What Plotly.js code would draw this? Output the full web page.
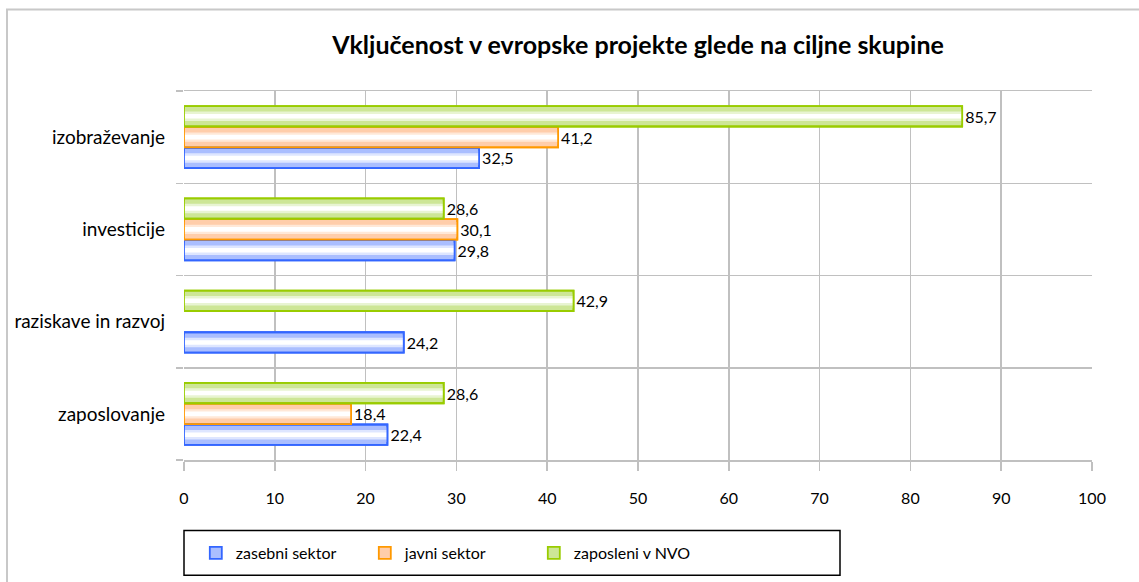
<!DOCTYPE html>
<html>
<head>
<meta charset="utf-8">
<script src="https://cdn.plot.ly/plotly-3.0.1.min.js"></script>
<style>
  html, body { margin: 0; padding: 0; background: #ffffff; }
  #chart { width: 1139px; height: 582px; }
</style>
</head>
<body>
<div id="chart"></div>
<script>
// ---- data ----
const categories = ["zaposlovanje", "raziskave in razvoj", "investicije", "izobraževanje"];
const seriesNames = ["zasebni sektor", "javni sektor", "zaposleni v NVO"];
const zasebniSektor = [22.4, 24.2, 29.8, 32.5];
const javniSektor = [18.4, null, 30.1, 41.2];
const zaposleniNVO = [28.6, 42.9, 28.6, 85.7];
const xTicks = [0, 10, 20, 30, 40, 50, 60, 70, 80, 90, 100];
const chartTitle = "Vključenost v evropske projekte glede na ciljne skupine";

// ---- styles ----
const FONT = "Lato, 'Open Sans', sans-serif";
const styles = [
  { values: zasebniSektor, name: seriesNames[0], center: -0.226,
    edge: "rgb(51,102,255)", layers: ["rgb(110,145,255)", "rgb(170,190,255)", "rgb(222,230,255)", "rgb(255,255,255)"] },
  { values: javniSektor, name: seriesNames[1], center: 0,
    edge: "rgb(255,153,0)", layers: ["rgb(255,175,110)", "rgb(255,205,170)", "rgb(255,232,215)", "rgb(255,255,255)"] },
  { values: zaposleniNVO, name: seriesNames[2], center: 0.226,
    edge: "rgb(153,204,0)", layers: ["rgb(170,210,60)", "rgb(205,230,150)", "rgb(232,244,210)", "rgb(255,255,255)"] }
];
const barW = 0.222;
const layerFrac = [1.0, 0.72, 0.46, 0.22];

const traces = [];
// fill layers (first trace of each group carries the legend entry)
styles.forEach(s => {
  s.layers.forEach((col, i) => {
    const w = barW * layerFrac[i];
    const t = {
      type: "bar", orientation: "h",
      x: s.values, y: categories,
      width: w, offset: s.center - w / 2,
      marker: { color: col, line: { width: 0 } },
      showlegend: false, hoverinfo: "skip",
      textposition: "none",
      legendgroup: s.name
    };
    if (i === 0) {
      t.name = s.name;
      t.showlegend = true;
      t.marker = { color: s.layers[1], line: { color: s.edge, width: 1.8 } };
    }
    traces.push(t);
  });
});
// outline layers with value labels on top
styles.forEach(s => {
  traces.push({
    type: "bar", orientation: "h",
    x: s.values, y: categories,
    width: barW, offset: s.center - barW / 2,
    marker: { color: "rgba(0,0,0,0)", line: { color: s.edge, width: 1.8 } },
    texttemplate: "%{x:.1f}",
    textposition: "outside",
    textfont: { family: FONT, size: 16, color: "#000000" },
    cliponaxis: false,
    showlegend: false, hoverinfo: "skip"
  });
});

const layout = {
  width: 1139, height: 582,
  margin: { l: 184, r: 47, t: 91, b: 120, pad: 0 },
  paper_bgcolor: "#ffffff", plot_bgcolor: "#ffffff",
  separators: ", ",
  barmode: "overlay",
  font: { family: FONT, size: 16, color: "#000000" },
  title: {
    text: "<b>" + chartTitle + "</b>",
    font: { family: FONT, size: 25, color: "#000000" },
    x: 0.5, xref: "paper", xanchor: "center",
    y: 1 - 45 / 582, yref: "container", yanchor: "middle"
  },
  xaxis: {
    range: [0, 100], tickvals: xTicks, ticktext: xTicks.map(String),
    showgrid: true, gridcolor: "#c0c0c0", gridwidth: 1.5,
    zeroline: false, showline: true, mirror: true, linecolor: "#c0c0c0", linewidth: 1.5,
    ticks: "outside", ticklen: 9, tickcolor: "#c0c0c0", tickwidth: 1.5,
    ticklabelstandoff: 14,
    tickfont: { family: FONT, size: 16, color: "#000000" },
    fixedrange: true
  },
  yaxis: {
    type: "category", categoryorder: "array", categoryarray: categories,
    tickson: "boundaries",
    showgrid: true, gridcolor: "#c0c0c0", gridwidth: 1.5,
    zeroline: false, showline: false,
    ticks: "outside", ticklen: 7, tickcolor: "#c0c0c0", tickwidth: 1.5,
    ticklabelstandoff: 18,
    tickfont: { family: FONT, size: 19, color: "#000000" },
    fixedrange: true
  },
  legend: {
    orientation: "h",
    x: 0.013, xanchor: "left",
    y: -0.252, yanchor: "middle",
    bgcolor: "rgba(0,0,0,0)", borderwidth: 0,
    entrywidth: 124, entrywidthmode: "pixels",
    itemwidth: 30,
    font: { family: FONT, size: 16, color: "#000000" },
    traceorder: "normal"
  },
  shapes: [
    // legend box
    { type: "rect", xref: "paper", yref: "paper",
      x0: 0, x1: (840 - 184) / 908, y0: -(578 - 462) / 371, y1: -(533 - 462) / 371,
      line: { color: "#000000", width: 1.5 }, fillcolor: "rgba(0,0,0,0)", layer: "below" },
    // outer chart border (left and top edges visible)
    { type: "rect", xref: "paper", yref: "paper",
      x0: (7 - 184) / 908, x1: 1.2, y0: -0.4, y1: 1 + (91 - 9) / 371,
      line: { color: "#c8c8c8", width: 2 }, fillcolor: "rgba(0,0,0,0)", layer: "below" }
  ]
};

Plotly.newPlot("chart", traces, layout, { displayModeBar: false, staticPlot: true });
</script>
</body>
</html>
